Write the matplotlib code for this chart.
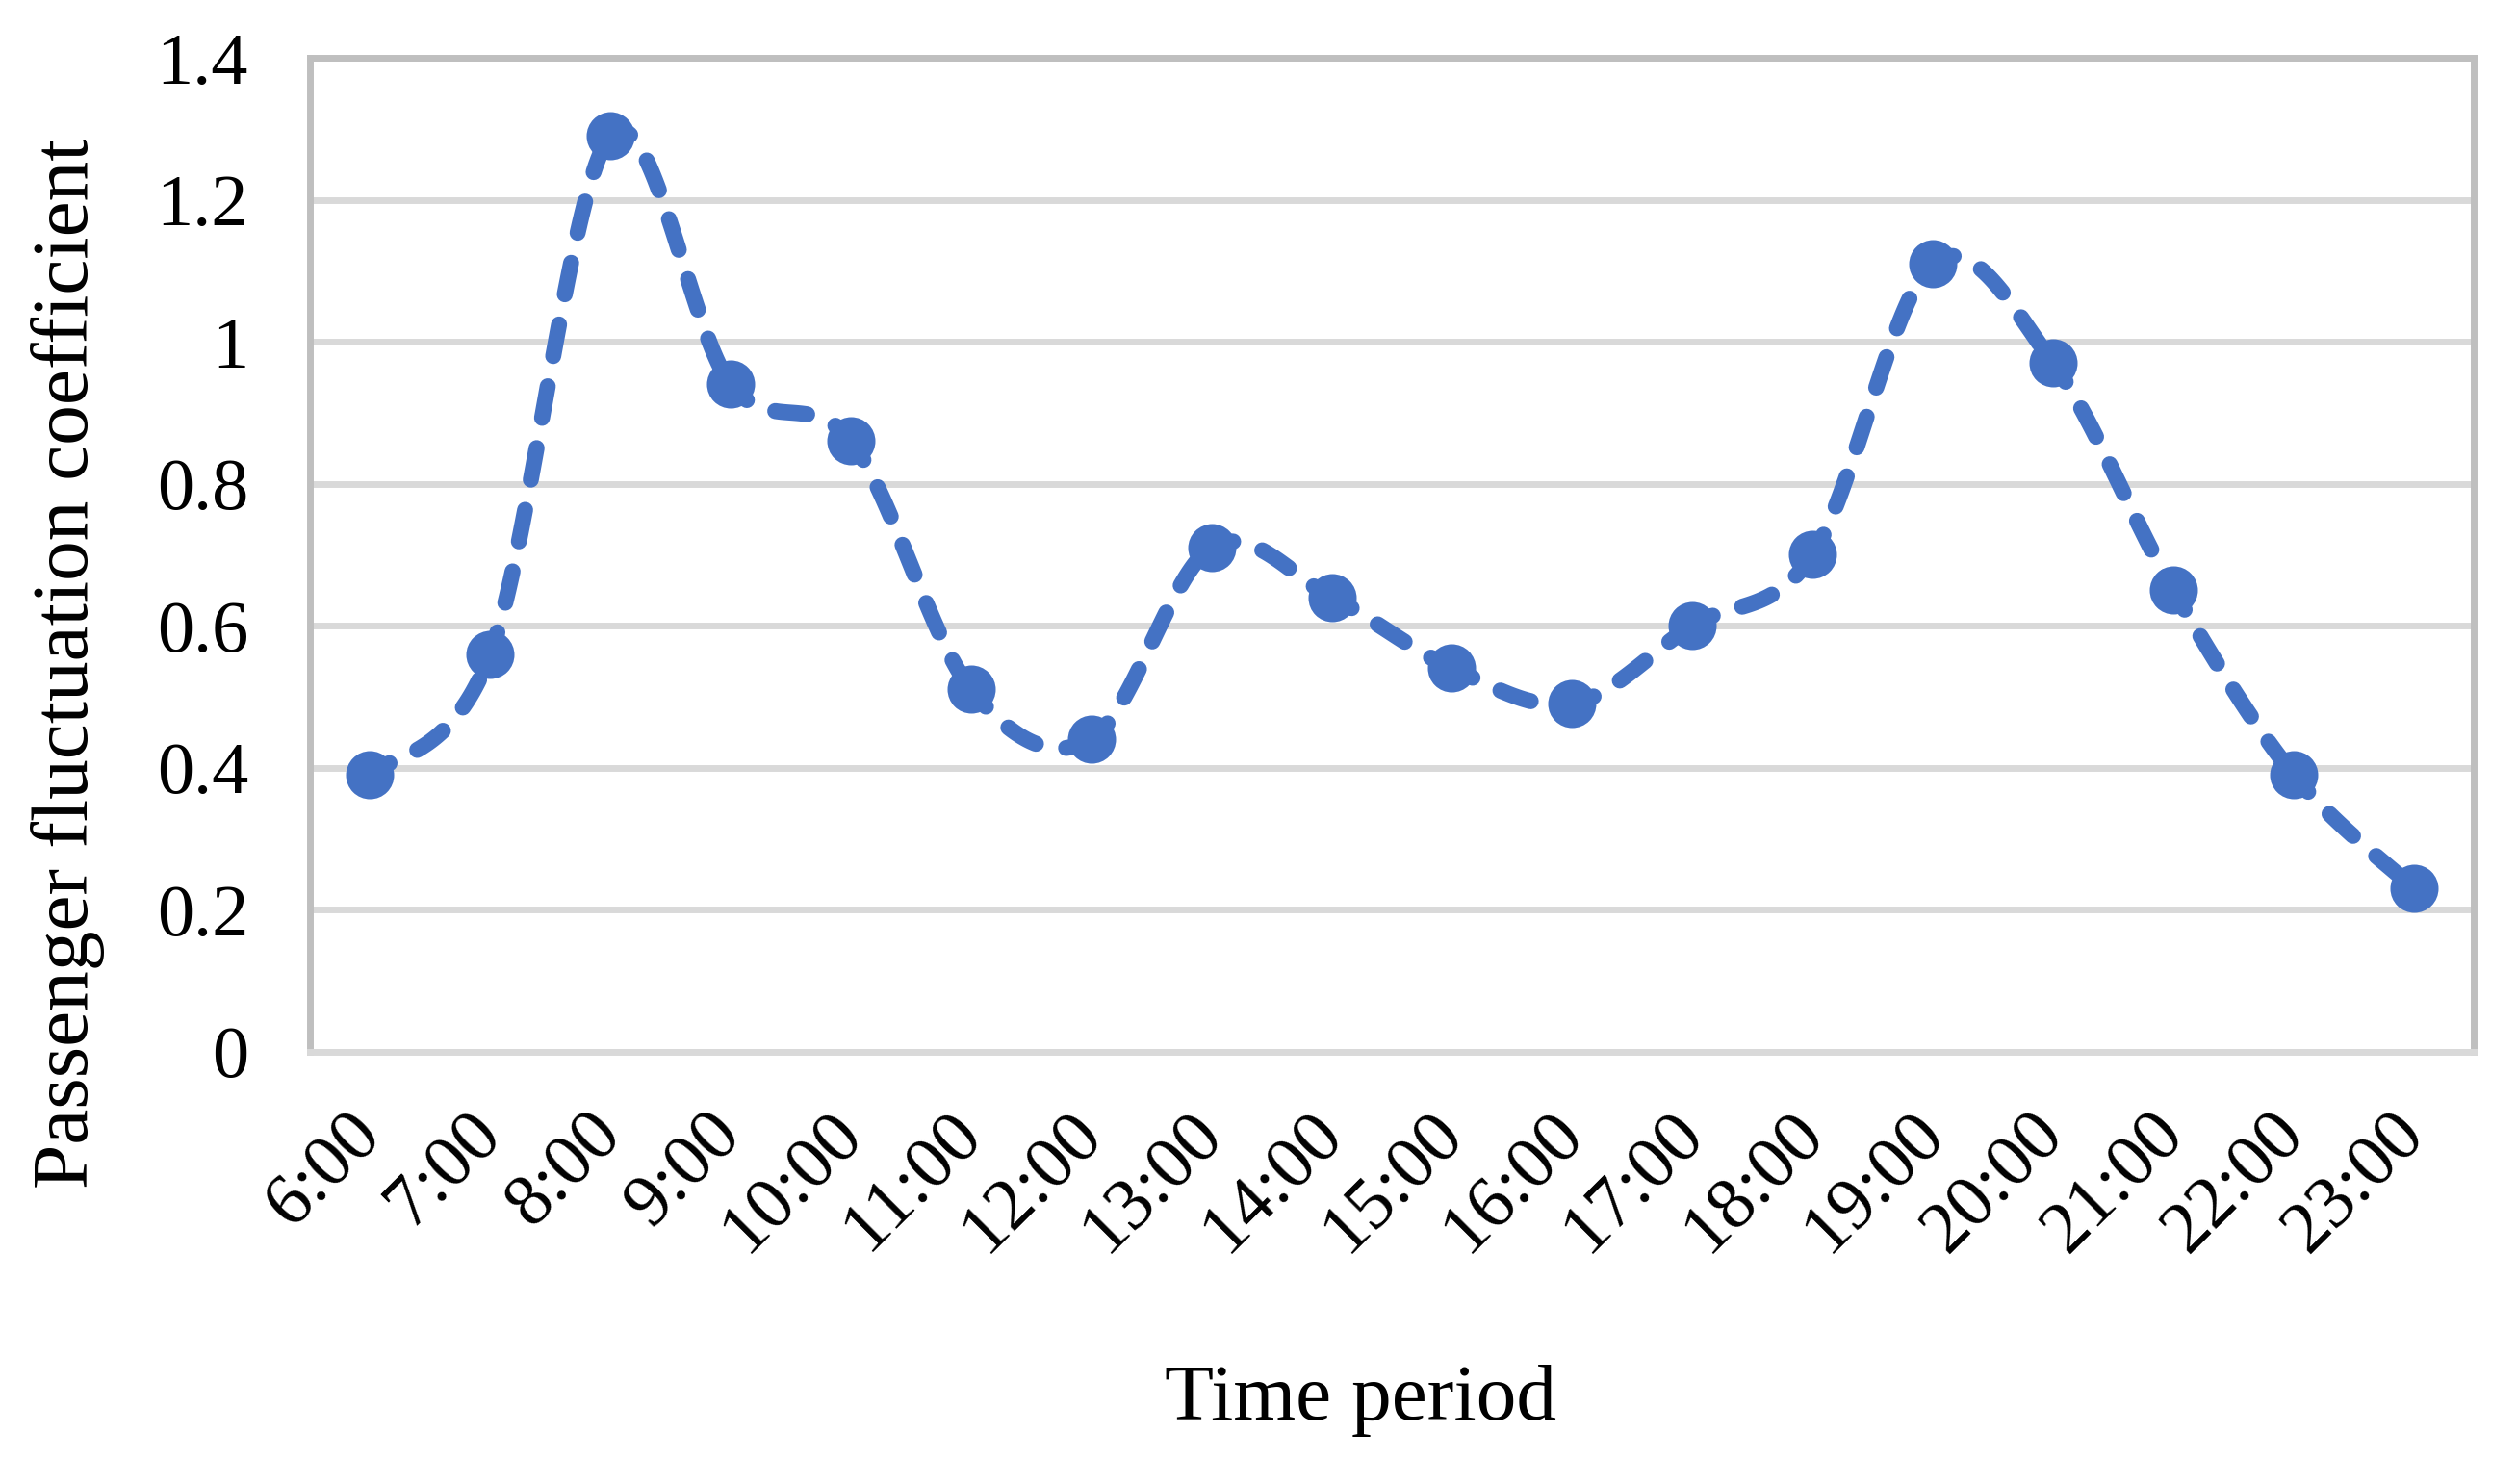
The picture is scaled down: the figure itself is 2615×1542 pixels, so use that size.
import numpy as np
import matplotlib
matplotlib.use("Agg")
import matplotlib.pyplot as plt

categories = ["6:00", "7:00", "8:00", "9:00", "10:00", "11:00", "12:00", "13:00", "14:00",
              "15:00", "16:00", "17:00", "18:00", "19:00", "20:00", "21:00", "22:00", "23:00"]
values = [0.39, 0.56, 1.29, 0.94, 0.86, 0.51, 0.44, 0.71, 0.64,
          0.54, 0.49, 0.60, 0.70, 1.11, 0.97, 0.65, 0.39, 0.23]
yticks = [0, 0.2, 0.4, 0.6, 0.8, 1.0, 1.2, 1.4]
ytick_labels = ["0", "0.2", "0.4", "0.6", "0.8", "1", "1.2", "1.4"]
xlabel = "Time period"
ylabel = "Passenger fluctuation coefficient"

plt.rcParams['font.family'] = ['Liberation Serif', 'DejaVu Serif']
plt.rcParams['lines.scale_dashes'] = False

W, H = 2615, 1542
DPI = 100
fig = plt.figure(figsize=(W / DPI, H / DPI), dpi=DPI)
L, R, T, B = 322, 2570, 60, 1092.5
ax = fig.add_axes([L / W, 1 - B / H, (R - L) / W, (B - T) / H])

blue = "#4472C4"


def bezier_segments(xs, ys, n=60):
    pts = np.column_stack([xs, ys]).astype(float)
    m = len(pts)
    segs = []
    for i in range(m - 1):
        p0 = pts[i - 1] if i > 0 else pts[i]
        p1 = pts[i]
        p2 = pts[i + 1]
        p3 = pts[i + 2] if i + 2 < m else pts[i + 1]
        c1 = p1 + (p2 - p0) / 6.0
        c2 = p2 - (p3 - p1) / 6.0
        t = np.linspace(0, 1, n)[:, None]
        seg = ((1 - t) ** 3) * p1 + 3 * ((1 - t) ** 2) * t * c1 + 3 * (1 - t) * t ** 2 * c2 + t ** 3 * p2
        segs.append(seg)
    return segs


x = np.arange(len(categories))
for seg in bezier_segments(x, values):
    ax.plot(seg[:, 0], seg[:, 1], color=blue, lw=12,
            linestyle=(7, (24, 23)), dash_capstyle='round', zorder=3)
ax.plot(x, values, linestyle='none', marker='o', markersize=36,
        markerfacecolor=blue, markeredgecolor=blue, markeredgewidth=0, zorder=4)

ax.set_xlim(-0.5, len(categories) - 0.5)
ax.set_ylim(0, 1.4)
ax.set_yticks(yticks)
ax.set_yticklabels(ytick_labels)
ax.set_xticks(x)
ax.set_xticklabels(categories, rotation=45, ha='right', va='center', rotation_mode='anchor')
ax.tick_params(axis='y', length=0, pad=46, labelsize=55)
ax.tick_params(axis='x', length=0, pad=54, labelsize=55)

ax.yaxis.grid(True, color="#D9D9D9", lw=5)
ax.xaxis.grid(False)
ax.set_axisbelow(True)
for s in ['left', 'top', 'right']:
    ax.spines[s].set_color("#BFBFBF")
    ax.spines[s].set_linewidth(5)
ax.spines['bottom'].set_color("#D9D9D9")
ax.spines['bottom'].set_linewidth(5)
ax.spines['bottom'].set_zorder(2.5)

fig.text(71 / W, 1 - 689 / H, ylabel, rotation=90, ha='center', va='center', fontsize=60)
fig.text(1414 / W, 1 - 1475 / H, xlabel, ha='center', va='baseline', fontsize=60)

fig.savefig("out.png", dpi=DPI)
